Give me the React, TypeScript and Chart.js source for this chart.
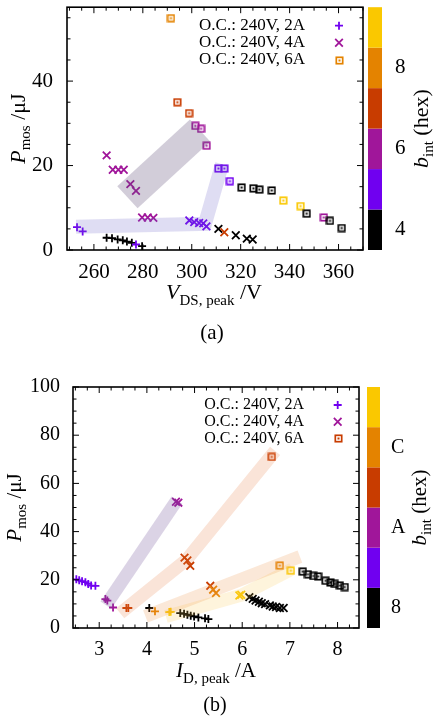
import React, { useEffect, useRef } from 'react';
import { Chart, registerables } from 'chart.js';
Chart.register(...registerables);

const FONT = '"Liberation Serif", "Times New Roman", serif';

// ---------- shared ----------
const SERIES_LABELS = ['O.C.: 240V, 2A', 'O.C.: 240V, 4A', 'O.C.: 240V, 6A'];
const PALETTE = ['#000000', '#7000f0', '#a0169a', '#c83c00', '#e48300', '#fac800'];

// ---------- panel (a): P_mos vs V_DS,peak ----------
const A_X_TICKS = [260, 280, 300, 320, 340, 360];
const A_Y_TICKS = [0, 20, 40];
const A_CB_BINS = [4, 5, 6, 7, 8, 9];
const A_CB_TICKS = [4, 6, 8];

const A_2A_V = [253.1, 255.4, 265.2, 267.4, 269.7, 271.8, 273.5, 275.5, 277.2, 279.7];
const A_2A_P = [5.4, 4.4, 2.9, 2.8, 2.5, 2.3, 2.0, 1.7, 1.3, 0.9];
const A_2A_B = [5, 5, 4, 4, 4, 4, 4, 4, 5, 4];

const A_4A_V = [265.2, 267.7, 270.0, 272.2, 274.9, 277.2, 279.7, 282.0, 284.3, 299.0, 301.0, 303.0, 304.7, 306.0, 310.9, 313.3, 318.0, 322.5, 324.9];
const A_4A_P = [22.4, 19.0, 19.0, 19.0, 15.6, 14.0, 7.7, 7.7, 7.6, 7.0, 6.6, 6.4, 6.3, 5.6, 5.0, 4.2, 3.5, 2.7, 2.5];
const A_4A_B = [6, 6, 6, 6, 6, 6, 6, 6, 6, 5, 5, 5, 5, 5, 4, 7, 4, 4, 4];

const A_6A_V = [291.5, 294.1, 298.9, 301.5, 303.8, 306.1, 310.9, 313.3, 315.6, 320.4, 325.2, 327.6, 332.7, 337.4, 344.5, 347.0, 354.0, 356.5, 361.3];
const A_6A_P = [54.9, 35.0, 32.4, 29.4, 28.7, 24.7, 19.3, 19.3, 16.3, 14.8, 14.6, 14.3, 14.1, 11.7, 10.4, 8.6, 7.7, 6.9, 5.2];
const A_6A_B = [8, 7, 7, 6, 6, 6, 5, 5, 5, 4, 4, 4, 4, 9, 9, 4, 6, 4, 4];

const A_BAND6_V = [273.7, 303.4];
const A_BAND6_P = [12.5, 28.3];
const A_BAND5_V = [252.7, 305.4, 312.4];
const A_BAND5_P = [5.5, 6.2, 20.3];

// ---------- panel (b): P_mos vs I_D,peak ----------
const B_X_TICKS = [3, 4, 5, 6, 7, 8];
const B_Y_TICKS = [0, 20, 40, 60, 80, 100];
const B_CB_BINS = [8, 9, 10, 11, 12, 13];
const B_CB_TICKS = [8, 10, 12];

const B_2A_I = [2.52, 2.58, 2.64, 2.71, 2.77, 2.83, 2.92, 3.13, 3.17, 3.29, 3.57, 3.61, 4.05, 4.17, 4.47, 4.50, 4.70, 4.78, 4.85, 4.92, 4.99, 5.08, 5.22, 5.29];
const B_2A_P = [20.2, 19.8, 19.4, 19.0, 18.3, 17.6, 17.5, 12.0, 11.4, 8.5, 8.3, 8.3, 8.3, 6.9, 6.6, 6.7, 6.2, 5.9, 5.5, 5.1, 4.8, 4.4, 4.0, 3.7];
const B_2A_B = [9, 9, 9, 9, 9, 9, 9, 10, 10, 10, 11, 11, 8, 12, 13, 13, 8, 8, 8, 8, 8, 8, 8, 8];

const B_4A_I = [4.61, 4.66, 4.79, 4.85, 4.91, 5.33, 5.39, 5.45, 5.94, 5.98, 6.15, 6.22, 6.28, 6.35, 6.41, 6.48, 6.58, 6.64, 6.71, 6.79, 6.87];
const B_4A_P = [52.4, 52.0, 29.2, 28.0, 25.8, 17.5, 15.9, 14.5, 13.5, 13.8, 12.8, 12.1, 11.4, 10.9, 10.3, 9.9, 9.4, 8.9, 8.7, 8.3, 8.3];
const B_4A_B = [10, 10, 11, 11, 11, 11, 12, 12, 13, 13, 8, 8, 8, 8, 8, 8, 8, 8, 8, 8, 8];

const B_6A_I = [6.62, 6.79, 7.02, 7.27, 7.38, 7.49, 7.59, 7.75, 7.85, 7.94, 8.05, 8.15];
const B_6A_P = [71.0, 25.9, 23.8, 23.4, 22.3, 21.6, 21.4, 19.6, 18.9, 18.3, 17.6, 17.0];
const B_6A_B = [11, 12, 13, 8, 8, 8, 8, 8, 8, 8, 8, 8];

const B_BANDA_I = [3.14, 4.63];
const B_BANDA_P = [9.5, 53.1];
const B_BANDB_I = [3.44, 4.83, 6.69];
const B_BANDB_P = [6.1, 28.3, 73.5];
const B_BANDC_I = [3.97, 7.21];
const B_BANDC_P = [4.8, 29.6];
const B_BANDD_I = [4.4, 5.98, 7.05];
const B_BANDD_P = [4.8, 13.6, 24.5];

// ---------- types ----------
type Part = { t: string; size: number; italic?: boolean; dy?: number };
type Series = { x: number[]; y: number[]; b: number[]; label: string; marker: 'plus' | 'x' | 'sq' };
type Band = { x: number[]; y: number[]; color: string; width: number };
type PanelCfg = {
  top: number; height: number;
  area: { left: number; top: number; right: number; bottom: number };
  xMin: number; xMax: number; yMin: number; yMax: number;
  xTicks: number[]; yTicks: number[]; xMinor: number; yMinor: number;
  tickFont: number; xTickPad: number; yTickPad: number; cbTickPad: number;
  cbBins: number[]; cbTicks: number[]; cbFmt: (v: number) => string;
  cbOffset: number; cbWidth: number;
  series: Series[]; bands: Band[];
  legendColors: string[]; legendRight: number; legendY0: number; legendDy: number; legendSymX: number; legendFont: number;
  xTitle: Part[]; xTitleX: number; xTitleY: number;
  yTitle: Part[]; yTitleX: number;
  cbTitle: Part[]; cbTitleX: number;
  caption: string; captionX: number; captionY: number; captionSize: number;
};

const PLUS_R = 4;
const X_R = 5.4;
const MARK_LW = 1.8;

const sqCache = new Map<string, HTMLCanvasElement>();
function squareImg(color: string): HTMLCanvasElement {
  const key = color || '#000';
  const hit = sqCache.get(key);
  if (hit) return hit;
  const c = document.createElement('canvas');
  c.width = 9; c.height = 9;
  const g = c.getContext('2d')!;
  g.strokeStyle = key; g.lineWidth = 1.7;
  g.strokeRect(1.3, 1.3, 6.4, 6.4);
  g.fillStyle = key;
  g.fillRect(3.5, 3.5, 2, 2);
  sqCache.set(key, c);
  return c;
}

function colorFor(bins: number[], b: number) {
  const i = bins.indexOf(b);
  return PALETTE[i < 0 ? 0 : i];
}

function fontOf(p: Part) {
  return `${p.italic ? 'italic ' : ''}${p.size}px ${FONT}`;
}

function drawRich(ctx: CanvasRenderingContext2D, parts: Part[], x: number, y: number, rotate: boolean) {
  ctx.save();
  ctx.translate(x, y);
  if (rotate) ctx.rotate(-Math.PI / 2);
  ctx.textBaseline = 'alphabetic';
  ctx.textAlign = 'left';
  ctx.fillStyle = '#000';
  const ws = parts.map((p) => { ctx.font = fontOf(p); return ctx.measureText(p.t).width; });
  const total = ws.reduce((s, w) => s + w, 0);
  let cx = -total / 2;
  parts.forEach((p, i) => { ctx.font = fontOf(p); ctx.fillText(p.t, cx, p.dy || 0); cx += ws[i]; });
  ctx.restore();
}

function drawMarker(ctx: CanvasRenderingContext2D, marker: string, x: number, y: number, color: string) {
  if (marker === 'sq') {
    ctx.drawImage(squareImg(color), Math.round(x) - 4, Math.round(y) - 4);
    return;
  }
  ctx.save();
  ctx.strokeStyle = color; ctx.lineWidth = MARK_LW;
  ctx.beginPath();
  if (marker === 'plus') {
    ctx.moveTo(x - PLUS_R, y); ctx.lineTo(x + PLUS_R, y);
    ctx.moveTo(x, y - PLUS_R); ctx.lineTo(x, y + PLUS_R);
  } else {
    const d = X_R * Math.SQRT1_2;
    ctx.moveTo(x - d, y - d); ctx.lineTo(x + d, y + d);
    ctx.moveTo(x + d, y - d); ctx.lineTo(x - d, y + d);
  }
  ctx.stroke();
  ctx.restore();
}

function Panel({ cfg }: { cfg: PanelCfg }) {
  const ref = useRef<HTMLCanvasElement>(null);
  useEffect(() => {
    const canvas = ref.current!;
    const a = cfg.area;
    const datasets: any[] = [];
    cfg.bands.forEach((bd) => {
      datasets.push({
        type: 'line',
        data: bd.x.map((x, i) => ({ x, y: bd.y[i] })),
        borderColor: bd.color,
        borderWidth: bd.width,
        pointRadius: 0,
        fill: false,
        tension: 0,
        borderJoinStyle: 'miter',
        borderCapStyle: 'butt',
        order: 0,
      });
    });
    cfg.series.forEach((s) => {
      const cols = s.b.map((b) => colorFor(cfg.cbBins, b));
      const pick = (c: any) => cols[c && typeof c.dataIndex === 'number' ? c.dataIndex : 0];
      const base: any = {
        type: 'scatter',
        label: s.label,
        data: s.x.map((x, i) => ({ x, y: s.y[i] })),
        order: 1,
        showLine: false,
      };
      if (s.marker === 'sq') {
        datasets.push({ ...base, pointStyle: (c: any) => squareImg(pick(c)), pointRadius: 4 });
      } else {
        datasets.push({
          ...base,
          pointStyle: s.marker === 'plus' ? 'cross' : 'crossRot',
          pointRadius: s.marker === 'plus' ? PLUS_R : X_R,
          pointBorderWidth: MARK_LW,
          pointBorderColor: pick,
          pointBackgroundColor: pick,
        });
      }
    });

    const tickFont = { family: FONT, size: cfg.tickFont };
    const W = canvas.width;
    const H = canvas.height;

    const decor = {
      id: 'decor',
      afterDraw(chart: any) {
        const ctx: CanvasRenderingContext2D = chart.ctx;
        const ca = chart.chartArea;
        const xs = chart.scales.x, ys = chart.scales.y, cb = chart.scales.cb;
        ctx.save();
        // colour bar
        cfg.cbBins.forEach((b, i) => {
          const y1 = cb.getPixelForValue(b - 0.5);
          const y2 = cb.getPixelForValue(b + 0.5);
          ctx.fillStyle = PALETTE[i];
          ctx.fillRect(ca.right + cfg.cbOffset, y2, cfg.cbWidth, y1 - y2);
        });
        // inward ticks on all four sides
        ctx.strokeStyle = '#000';
        ctx.lineWidth = 1;
        const line = (x1: number, y1: number, x2: number, y2: number) => {
          ctx.beginPath(); ctx.moveTo(x1, y1); ctx.lineTo(x2, y2); ctx.stroke();
        };
        const isMajor = (arr: number[], v: number) => arr.some((t) => Math.abs(t - v) < 1e-6);
        const x0 = Math.ceil(cfg.xMin / cfg.xMinor - 1e-9);
        const x1 = Math.floor(cfg.xMax / cfg.xMinor + 1e-9);
        for (let k = x0; k <= x1; k++) {
          const v = k * cfg.xMinor;
          const L = isMajor(cfg.xTicks, v) ? 6 : 3.5;
          const px = xs.getPixelForValue(v);
          line(px, ca.bottom, px, ca.bottom - L);
          line(px, ca.top, px, ca.top + L);
        }
        const y0 = Math.ceil(cfg.yMin / cfg.yMinor - 1e-9);
        const y1 = Math.floor(cfg.yMax / cfg.yMinor + 1e-9);
        for (let k = y0; k <= y1; k++) {
          const v = k * cfg.yMinor;
          const L = isMajor(cfg.yTicks, v) ? 6 : 3.5;
          const py = ys.getPixelForValue(v);
          line(ca.left, py, ca.left + L, py);
          line(ca.right, py, ca.right - L, py);
        }
        // frame
        ctx.lineWidth = 1.6;
        ctx.strokeRect(ca.left, ca.top, ca.right - ca.left, ca.bottom - ca.top);
        // legend
        ctx.font = `${cfg.legendFont}px ${FONT}`;
        ctx.textAlign = 'right';
        ctx.textBaseline = 'middle';
        ctx.fillStyle = '#000';
        cfg.series.forEach((s, i) => {
          const y = ca.top + cfg.legendY0 + i * cfg.legendDy;
          ctx.fillText(s.label, cfg.legendRight, y);
          drawMarker(ctx, s.marker, cfg.legendSymX, y, cfg.legendColors[i]);
        });
        // titles
        drawRich(ctx, cfg.xTitle, cfg.xTitleX, cfg.xTitleY, false);
        drawRich(ctx, cfg.yTitle, cfg.yTitleX, (ca.top + ca.bottom) / 2, true);
        drawRich(ctx, cfg.cbTitle, cfg.cbTitleX, (ca.top + ca.bottom) / 2, true);
        drawRich(ctx, [{ t: cfg.caption, size: cfg.captionSize }], cfg.captionX, cfg.captionY, false);
        ctx.restore();
      },
    };

    const noGrid = { display: false, drawTicks: false, tickLength: 0 };
    const chart = new Chart(canvas, {
      type: 'scatter',
      data: { datasets },
      plugins: [decor],
      options: {
        responsive: false,
        animation: false,
        devicePixelRatio: 1,
        events: [],
        layout: { padding: { top: a.top, left: 0, right: 0, bottom: 0 } },
        plugins: { legend: { display: false }, tooltip: { enabled: false }, title: { display: false } },
        scales: {
          x: {
            type: 'linear', position: 'bottom', min: cfg.xMin, max: cfg.xMax,
            grid: noGrid, border: { display: false },
            ticks: { font: tickFont, color: '#000', padding: cfg.xTickPad, maxRotation: 0, autoSkip: false },
            afterBuildTicks: (s: any) => { s.ticks = cfg.xTicks.map((v) => ({ value: v })); },
            afterFit: (s: any) => { s.height = H - a.bottom; s.paddingLeft = 0; s.paddingRight = 0; },
          },
          y: {
            type: 'linear', position: 'left', min: cfg.yMin, max: cfg.yMax,
            grid: noGrid, border: { display: false },
            ticks: { font: tickFont, color: '#000', padding: cfg.yTickPad, autoSkip: false },
            afterBuildTicks: (s: any) => { s.ticks = cfg.yTicks.map((v) => ({ value: v })); },
            afterFit: (s: any) => { s.width = a.left; s.paddingTop = 0; s.paddingBottom = 0; },
          },
          cb: {
            type: 'linear', position: 'right',
            min: cfg.cbBins[0] - 0.5, max: cfg.cbBins[cfg.cbBins.length - 1] + 0.5,
            grid: noGrid, border: { display: false },
            ticks: { font: tickFont, color: '#000', padding: cfg.cbTickPad, autoSkip: false, callback: (v: any) => cfg.cbFmt(Number(v)) },
            afterBuildTicks: (s: any) => { s.ticks = cfg.cbTicks.map((v) => ({ value: v })); },
            afterFit: (s: any) => { s.width = W - a.right; s.paddingTop = 0; s.paddingBottom = 0; },
          },
        } as any,
      } as any,
    });
    return () => chart.destroy();
  }, [cfg]);
  return (
    <canvas
      ref={ref}
      width={434}
      height={cfg.height}
      style={{ position: 'absolute', left: 0, top: cfg.top, width: 434, height: cfg.height }}
    />
  );
}

const PANEL_A: PanelCfg = {
  top: 0, height: 345,
  area: { left: 67, top: 1.5, right: 363, bottom: 250 },
  xMin: 249, xMax: 370, yMin: 0, yMax: 57.5,
  xTicks: A_X_TICKS, yTicks: A_Y_TICKS, xMinor: 5, yMinor: 5,
  tickFont: 21, xTickPad: 10, yTickPad: 14, cbTickPad: 32,
  cbBins: A_CB_BINS, cbTicks: A_CB_TICKS, cbFmt: (v) => String(v),
  cbOffset: 5, cbWidth: 14,
  series: [
    { x: A_2A_V, y: A_2A_P, b: A_2A_B, label: SERIES_LABELS[0], marker: 'plus' },
    { x: A_4A_V, y: A_4A_P, b: A_4A_B, label: SERIES_LABELS[1], marker: 'x' },
    { x: A_6A_V, y: A_6A_P, b: A_6A_B, label: SERIES_LABELS[2], marker: 'sq' },
  ],
  bands: [
    { x: A_BAND6_V, y: A_BAND6_P, color: 'rgba(95,75,120,0.28)', width: 30 },
    { x: A_BAND5_V, y: A_BAND5_P, color: 'rgba(110,100,200,0.22)', width: 14 },
  ],
  legendColors: [PALETTE[1], PALETTE[2], PALETTE[4]],
  legendRight: 305, legendY0: 18.5, legendDy: 17, legendSymX: 339, legendFont: 17,
  xTitle: [{ t: 'V', size: 22, italic: true }, { t: 'DS, peak', size: 15, dy: 6 }, { t: ' /V', size: 22 }],
  xTitleX: 214, xTitleY: 299,
  yTitle: [{ t: 'P', size: 22, italic: true }, { t: 'mos', size: 15, dy: 5 }, { t: ' /μJ', size: 22 }],
  yTitleX: 25,
  cbTitle: [{ t: 'b', size: 22, italic: true }, { t: 'int', size: 15, dy: 5 }, { t: ' (hex)', size: 22 }],
  cbTitleX: 428,
  caption: '(a)', captionX: 212, captionY: 339, captionSize: 21,
};

const PANEL_B: PanelCfg = {
  top: 360, height: 360,
  area: { left: 73, top: 27, right: 359, bottom: 268 },
  xMin: 2.45, xMax: 8.45, yMin: 0, yMax: 100,
  xTicks: B_X_TICKS, yTicks: B_Y_TICKS, xMinor: 0.25, yMinor: 5,
  tickFont: 20, xTickPad: 10, yTickPad: 13, cbTickPad: 32,
  cbBins: B_CB_BINS, cbTicks: B_CB_TICKS, cbFmt: (v) => v.toString(16).toUpperCase(),
  cbOffset: 8, cbWidth: 13,
  series: [
    { x: B_2A_I, y: B_2A_P, b: B_2A_B, label: SERIES_LABELS[0], marker: 'plus' },
    { x: B_4A_I, y: B_4A_P, b: B_4A_B, label: SERIES_LABELS[1], marker: 'x' },
    { x: B_6A_I, y: B_6A_P, b: B_6A_B, label: SERIES_LABELS[2], marker: 'sq' },
  ],
  bands: [
    { x: B_BANDA_I, y: B_BANDA_P, color: 'rgba(110,80,150,0.25)', width: 13 },
    { x: B_BANDB_I, y: B_BANDB_P, color: 'rgba(230,120,60,0.2)', width: 13 },
    { x: B_BANDC_I, y: B_BANDC_P, color: 'rgba(235,140,60,0.2)', width: 13 },
    { x: B_BANDD_I, y: B_BANDD_P, color: 'rgba(250,200,80,0.2)', width: 13 },
  ],
  legendColors: [PALETTE[1], PALETTE[2], PALETTE[3]],
  legendRight: 304, legendY0: 18, legendDy: 16.7, legendSymX: 337.7, legendFont: 16,
  xTitle: [{ t: 'I', size: 21, italic: true }, { t: 'D, peak', size: 15, dy: 6 }, { t: ' /A', size: 21 }],
  xTitleX: 216, xTitleY: 317,
  yTitle: [{ t: 'P', size: 21, italic: true }, { t: 'mos', size: 15, dy: 5 }, { t: ' /μJ', size: 21 }],
  yTitleX: 21,
  cbTitle: [{ t: 'b', size: 21, italic: true }, { t: 'int', size: 15, dy: 5 }, { t: ' (hex)', size: 21 }],
  cbTitleX: 426,
  caption: '(b)', captionX: 215, captionY: 351, captionSize: 20,
};

export default function App() {
  return (
    <div style={{ position: 'absolute', left: 0, top: 0, width: 434, height: 720, background: '#fff' }}>
      <Panel cfg={PANEL_A} />
      <Panel cfg={PANEL_B} />
    </div>
  );
}
